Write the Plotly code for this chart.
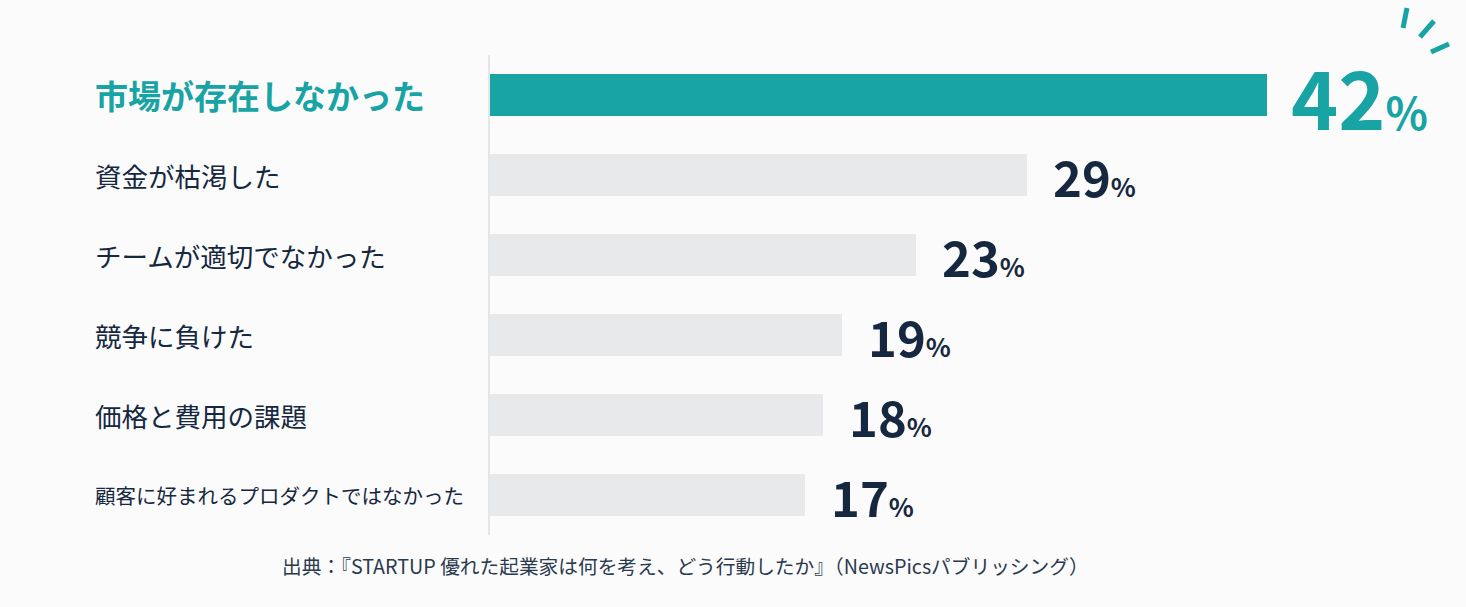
import plotly.graph_objects as go

# reasons startups fail (top answer highlighted)
reasons = [
    "市場が存在しなかった",
    "資金が枯渇した",
    "チームが適切でなかった",
    "競争に負けた",
    "価格と費用の課題",
    "顧客に好まれるプロダクトではなかった",
]
shares = [42, 29, 23, 19, 18, 17]
source_note = "出典：『STARTUP 優れた起業家は何を考え、どう行動したか』（NewsPicsパブリッシング）"

TEAL = "#18a3a5"
GRAY = "#e8e9eb"
NAVY = "#15283f"
FONT = "Noto Sans CJK JP"

bar_colors = [TEAL if i == 0 else GRAY for i in range(len(reasons))]

fig = go.Figure(go.Bar(
    x=shares,
    y=reasons,
    orientation="h",
    width=0.52,
    marker=dict(color=bar_colors, line=dict(width=0)),
    hoverinfo="skip",
))

# category labels, left aligned in the margin
label_sizes = [33, 26.5, 26.5, 26.5, 26.5, 20.5]
for i, (name, size) in enumerate(zip(reasons, label_sizes)):
    if i == 0:
        f = dict(family=FONT, size=size, color=TEAL, weight=700)
    else:
        f = dict(family=FONT, size=size, color=NAVY, weight=400)
    fig.add_annotation(
        x=-0.4127, xref="paper", y=name, yref="y",
        text=name, showarrow=False, xanchor="left", yanchor="middle",
        font=f,
    )

# value labels
for i, (name, v) in enumerate(zip(reasons, shares)):
    if i == 0:
        txt = f"<b>{v}<span style='font-size:44px'>%</span></b>"
        fig.add_annotation(
            x=v, y=name, text=txt, showarrow=False,
            xanchor="left", yanchor="middle", xshift=22, yshift=0,
            font=dict(family=FONT, size=80, color=TEAL),
        )
    else:
        txt = f"<b>{v}<span style='font-size:26px'>%</span></b>"
        fig.add_annotation(
            x=v, y=name, text=txt, showarrow=False,
            xanchor="left", yanchor="middle", xshift=24, yshift=0,
            font=dict(family=FONT, size=49, color=NAVY),
        )

# little emphasis strokes next to the top value
strokes = [
    (0.9532, 1.0979, 0.9491, 1.0563),
    (0.9813, 1.0708, 0.9667, 1.0375),
    (0.9969, 1.0229, 0.9782, 1.0063),
]
for x0, y0, x1, y1 in strokes:
    fig.add_shape(type="line", xref="paper", yref="paper",
                  x0=x0, y0=y0, x1=x1, y1=y1,
                  line=dict(color=TEAL, width=5))

# source line, centred under the chart
fig.add_annotation(
    x=(685 - 490) / 962, xref="paper", xanchor="center",
    y=-0.0625, yref="paper", yanchor="middle",
    text=source_note, showarrow=False,
    font=dict(family=FONT, size=19.7, color="#2a3a4e"),
)

fig.update_layout(
    width=1466, height=607,
    margin=dict(l=490, r=14, t=55, b=72),
    paper_bgcolor="#fbfbfb",
    plot_bgcolor="#fbfbfb",
    showlegend=False,
    bargap=0,
    xaxis=dict(range=[0, 52], visible=False, fixedrange=True),
    yaxis=dict(
        range=[5.5, -0.5], showticklabels=False, ticks="",
        showgrid=False, zeroline=False,
        showline=True, linecolor="#e4e5e7", linewidth=2,
        fixedrange=True,
    ),
)

fig.write_html(
    "out.html",
    config={"displayModeBar": False},
    post_script="document.body.style.margin='0';",
)
